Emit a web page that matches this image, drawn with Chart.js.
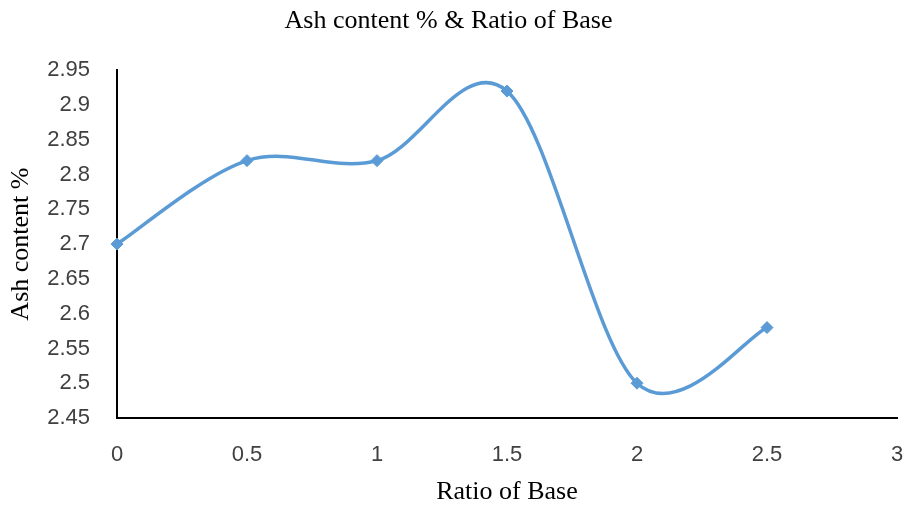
<!DOCTYPE html>
<html>
<head>
<meta charset="utf-8">
<title>Ash content % & Ratio of Base</title>
<script src="https://cdn.jsdelivr.net/npm/chart.js@4/dist/chart.umd.min.js"></script>
<style>
    html, body { margin: 0; padding: 0; background: #fff; }
    #wrap { width: 905px; height: 506px; position: relative; }
</style>
</head>
<body>
<div id="wrap"><canvas id="ash-chart"></canvas></div>
<script>
    // Data
    var ratioOfBase = [0, 0.5, 1, 1.5, 2, 2.5];
    var ashContent = [2.7, 2.82, 2.82, 2.92, 2.5, 2.58];
    var xTickLabels = ["0", "0.5", "1", "1.5", "2", "2.5", "3"];
    var yTickLabels = ["2.45", "2.5", "2.55", "2.6", "2.65", "2.7", "2.75", "2.8", "2.85", "2.9", "2.95"];

    var blue = "#5B9BD5";
    var serif = "'Liberation Serif', 'Times New Roman', serif";
    var sans = "'Liberation Sans', Arial, sans-serif";

    var points = ratioOfBase.map(function (x, i) {
        return { x: x, y: ashContent[i] };
    });

    // Spreadsheet-style smoothing: uniform Catmull-Rom control points (1/6)
    // taken from the point elements the library already placed.
    var smoothLine = {
        id: "smoothLine",
        beforeDatasetDraw: function (chart, args) {
            var meta = args.meta;
            meta.dataset.updateControlPoints(chart.chartArea);
            var pts = meta.data;
            for (var i = 0; i < pts.length; i++) {
                var p0 = pts[Math.max(i - 1, 0)];
                var p1 = pts[i];
                var p2 = pts[Math.min(i + 1, pts.length - 1)];
                var dx = (p2.x - p0.x) / 6;
                var dy = (p2.y - p0.y) / 6;
                p1.cp1x = p1.x - dx;
                p1.cp1y = p1.y - dy;
                p1.cp2x = p1.x + dx;
                p1.cp2y = p1.y + dy;
            }
        }
    };

    var ctx = document.getElementById("ash-chart").getContext("2d");
    var ashChart = new Chart(ctx, {
        type: "line",
        data: {
            datasets: [{
                label: "Ash content %",
                data: points,
                borderColor: blue,
                backgroundColor: blue,
                borderWidth: 3.5,
                tension: 0.5,
                pointStyle: "rectRot",
                pointRadius: 6,
                pointHoverRadius: 6,
                pointBorderWidth: 1,
                clip: false,
                fill: false
            }]
        },
        options: {
            responsive: true,
            maintainAspectRatio: false,
            animation: false,
            layout: {
                padding: { left: 0, right: 8, top: 0, bottom: 0 }
            },
            plugins: {
                legend: { display: false },
                tooltip: { enabled: false },
                title: {
                    display: true,
                    text: "Ash content % & Ratio of Base",
                    color: "#000",
                    font: { family: serif, size: 26, weight: "normal", lineHeight: 1.2 },
                    padding: { top: 6, bottom: 33 }
                }
            },
            scales: {
                x: {
                    type: "linear",
                    min: 0,
                    max: 3,
                    grid: { display: false, drawTicks: false },
                    border: { display: true, color: "#000", width: 2 },
                    ticks: {
                        stepSize: 0.5,
                        autoSkip: false,
                        maxRotation: 0,
                        padding: 24,
                        color: "#404040",
                        font: { family: sans, size: 22 },
                        callback: function (v, i) { return xTickLabels[i]; }
                    },
                    title: {
                        display: true,
                        text: "Ratio of Base",
                        color: "#000",
                        font: { family: serif, size: 26, lineHeight: 1.0 },
                        padding: { top: 0, bottom: 1 }
                    },
                    afterFit: function (scale) {
                        scale.height = 88;
                        scale.paddingLeft = 0;
                        scale.paddingRight = 0;
                    }
                },
                y: {
                    min: 2.45,
                    max: 2.95,
                    grid: { display: false, drawTicks: false },
                    border: { display: true, color: "#000", width: 2 },
                    ticks: {
                        stepSize: 0.05,
                        autoSkip: false,
                        padding: 27,
                        color: "#404040",
                        font: { family: sans, size: 22 },
                        callback: function (v, i) { return yTickLabels[i]; }
                    },
                    title: {
                        display: true,
                        text: "Ash content %",
                        color: "#000",
                        font: { family: serif, size: 26, lineHeight: 1.2 },
                        padding: { top: 6, bottom: 0 }
                    },
                    afterFit: function (scale) { scale.width = 117; }
                }
            }
        },
        plugins: [smoothLine]
    });
</script>
</body>
</html>
